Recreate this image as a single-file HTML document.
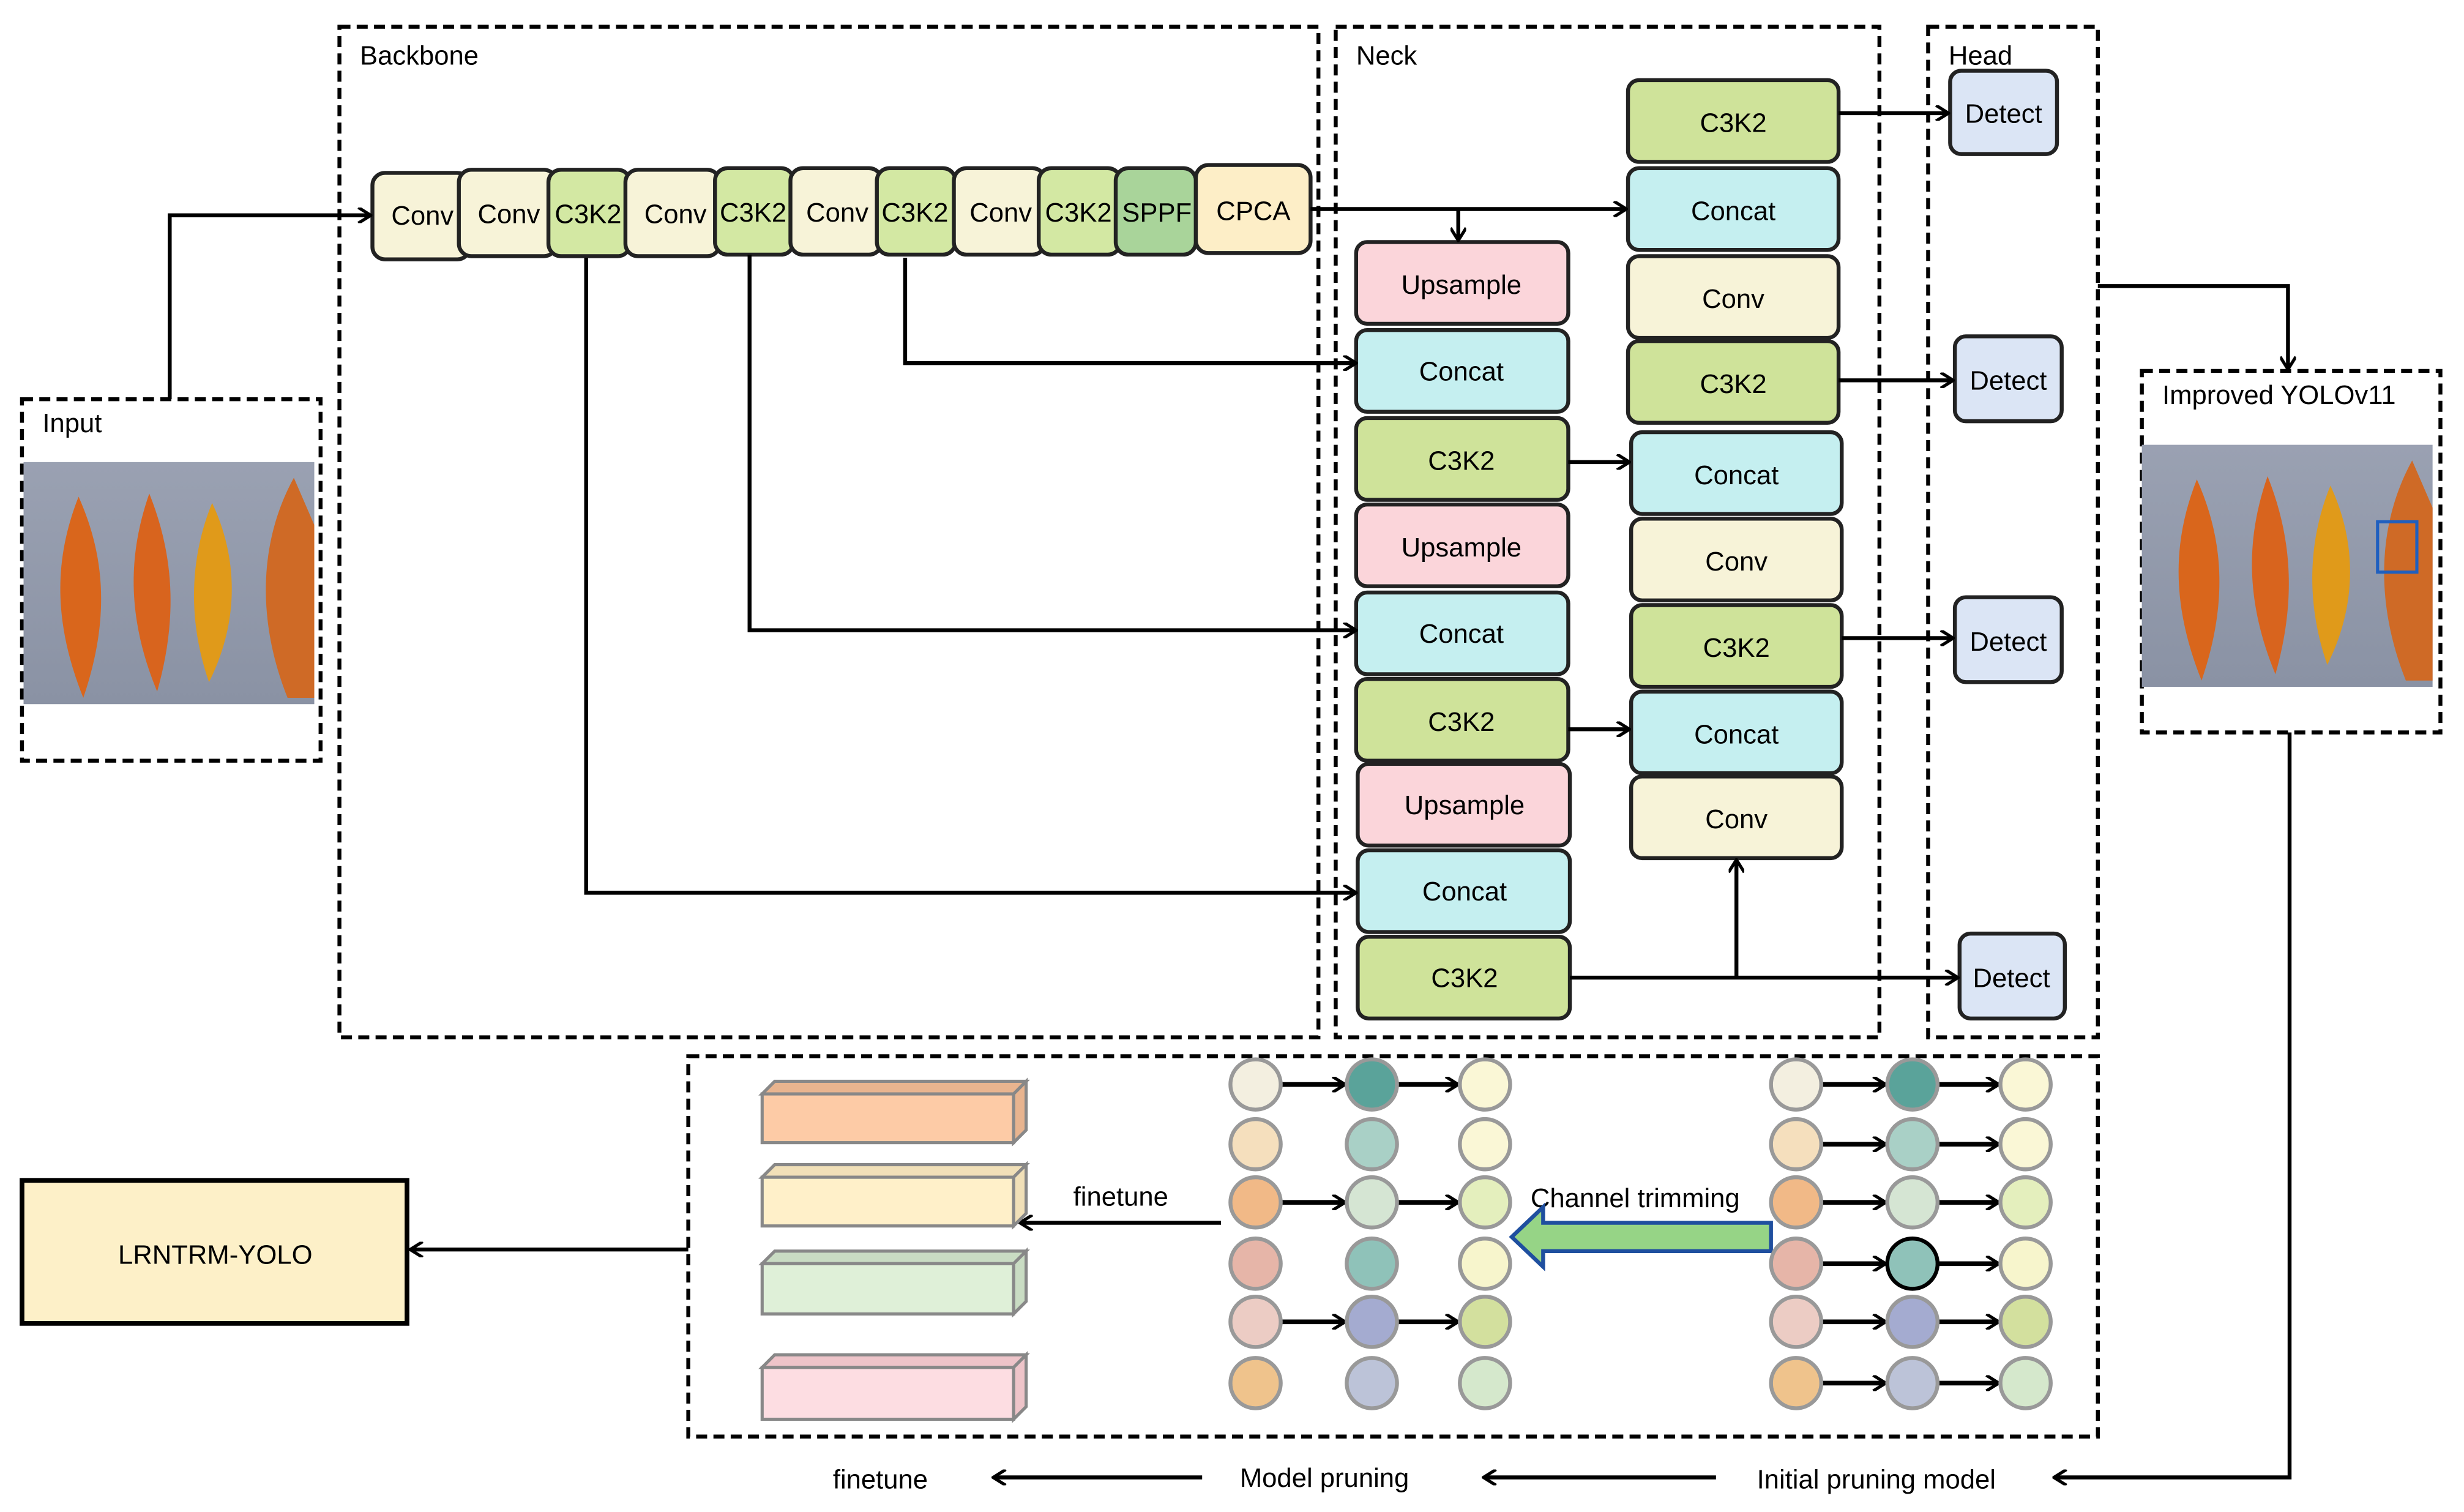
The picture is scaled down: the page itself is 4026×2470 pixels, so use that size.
<!DOCTYPE html>
<html><head><style>html,body{margin:0;padding:0;background:#fff}svg{display:block}</style></head><body>
<svg width="4026" height="2470" viewBox="0 0 1568 962" preserveAspectRatio="none" xmlns="http://www.w3.org/2000/svg" font-family="Liberation Sans, sans-serif">
<defs>
<marker id="a" markerWidth="10" markerHeight="10" refX="8" refY="5" orient="auto" markerUnits="userSpaceOnUse"><path d="M1,0 L9,5 L1,10" fill="none" stroke="#000" stroke-width="2"/></marker>
<linearGradient id="bg" x1="0" y1="0" x2="0" y2="1"><stop offset="0" stop-color="#9aa1b2"/><stop offset="1" stop-color="#8a92a4"/></linearGradient>
<g id="leaves">
<rect x="0" y="0" width="185" height="154" fill="url(#bg)"/>
<path d="M35,22 C20,60 18,100 38,150 C55,100 52,60 35,22Z" fill="#d9661c"/>
<path d="M80,20 C66,60 66,100 85,146 C98,100 96,60 80,20Z" fill="#d8641e"/>
<path d="M120,26 C106,60 104,100 118,140 C138,100 136,60 120,26Z" fill="#e09a1a"/>
<path d="M172,10 C150,50 148,100 168,150 L185,150 L185,40Z" fill="#cf6a26"/>
</g>
</defs>
<g fill="none" stroke="#000" stroke-width="2.5" stroke-dasharray="7,4">
<rect x="216" y="17" width="623" height="643"/>
<rect x="850" y="17" width="346" height="643"/>
<rect x="1227" y="17" width="108" height="643"/>
<rect x="14" y="254" width="190" height="230"/>
<rect x="1363" y="236" width="190" height="230"/>
<rect x="438" y="672" width="897" height="242"/>
</g>
<g font-size="17" fill="#000">
<text x="229" y="41">Backbone</text><text x="863" y="41">Neck</text><text x="1240" y="41">Head</text>
<text x="27" y="275">Input</text><text x="1376" y="257">Improved YOLOv11</text>
</g>
<use href="#leaves" x="15" y="294"/>
<use href="#leaves" x="1363" y="283"/>
<rect x="1513" y="332" width="25" height="32" fill="none" stroke="#1f5fbf" stroke-width="2"/>
<rect x="14" y="751" width="245" height="91" fill="#fdf0c8" stroke="#000" stroke-width="3"/>
<text x="137" y="804" font-size="17" text-anchor="middle">LRNTRM-YOLO</text>
<g stroke="#222" stroke-width="2.5" font-size="17">
<rect x="237" y="110" width="62" height="55" rx="8" fill="#f7f3d8"/>
<rect x="292" y="108" width="62" height="55" rx="8" fill="#f7f3d8"/>
<rect x="349" y="108" width="52" height="55" rx="8" fill="#d3e8a3"/>
<rect x="398" y="108" width="60" height="55" rx="8" fill="#f7f3d8"/>
<rect x="455" y="107" width="50" height="55" rx="8" fill="#d3e8a3"/>
<rect x="503" y="107" width="58" height="55" rx="8" fill="#f7f3d8"/>
<rect x="558" y="107" width="50" height="55" rx="8" fill="#d3e8a3"/>
<rect x="607" y="107" width="58" height="55" rx="8" fill="#f7f3d8"/>
<rect x="661" y="107" width="52" height="55" rx="8" fill="#d3e8a3"/>
<rect x="710" y="107" width="51" height="55" rx="8" fill="#a9d49a"/>
<rect x="761" y="105" width="73" height="56" rx="8" fill="#fdeec7"/>
</g>
<g font-size="17" stroke="none">
<text x="249" y="143">Conv</text><text x="304" y="142">Conv</text><text x="353" y="142">C3K2</text><text x="410" y="142">Conv</text><text x="458" y="141">C3K2</text><text x="513" y="141">Conv</text><text x="561" y="141">C3K2</text><text x="617" y="141">Conv</text><text x="665" y="141">C3K2</text><text x="714" y="141">SPPF</text><text x="774" y="140">CPCA</text>
</g>
<g stroke="#222" stroke-width="2.5">
<rect x="863" y="154" width="135" height="52" rx="7" fill="#fbd5da"/>
<rect x="863" y="210" width="135" height="52" rx="7" fill="#c5eff0"/>
<rect x="863" y="266" width="135" height="52" rx="7" fill="#cfe39a"/>
<rect x="863" y="321" width="135" height="52" rx="7" fill="#fbd5da"/>
<rect x="863" y="377" width="135" height="52" rx="7" fill="#c5eff0"/>
<rect x="863" y="432" width="135" height="52" rx="7" fill="#cfe39a"/>
<rect x="864" y="486" width="135" height="52" rx="7" fill="#fbd5da"/>
<rect x="864" y="541" width="135" height="52" rx="7" fill="#c5eff0"/>
<rect x="864" y="596" width="135" height="52" rx="7" fill="#cfe39a"/>
<rect x="1036" y="51" width="134" height="52" rx="7" fill="#cfe39a"/>
<rect x="1036" y="107" width="134" height="52" rx="7" fill="#c5eff0"/>
<rect x="1036" y="163" width="134" height="52" rx="7" fill="#f7f3d8"/>
<rect x="1036" y="217" width="134" height="52" rx="7" fill="#cfe39a"/>
<rect x="1038" y="275" width="134" height="52" rx="7" fill="#c5eff0"/>
<rect x="1038" y="330" width="134" height="52" rx="7" fill="#f7f3d8"/>
<rect x="1038" y="385" width="134" height="52" rx="7" fill="#cfe39a"/>
<rect x="1038" y="440" width="134" height="52" rx="7" fill="#c5eff0"/>
<rect x="1038" y="494" width="134" height="52" rx="7" fill="#f7f3d8"/>
<rect x="1241" y="45" width="68" height="53" rx="7" fill="#dbe5f5"/>
<rect x="1244" y="214" width="68" height="54" rx="7" fill="#dbe5f5"/>
<rect x="1244" y="380" width="68" height="54" rx="7" fill="#dbe5f5"/>
<rect x="1247" y="594" width="67" height="54" rx="7" fill="#dbe5f5"/>
</g>
<g font-size="17" text-anchor="middle">
<text x="930" y="187">Upsample</text><text x="930" y="242">Concat</text><text x="930" y="299">C3K2</text>
<text x="930" y="354">Upsample</text><text x="930" y="409">Concat</text><text x="930" y="465">C3K2</text>
<text x="932" y="518">Upsample</text><text x="932" y="573">Concat</text><text x="932" y="628">C3K2</text>
<text x="1103" y="84">C3K2</text><text x="1103" y="140">Concat</text><text x="1103" y="196">Conv</text><text x="1103" y="250">C3K2</text>
<text x="1105" y="308">Concat</text><text x="1105" y="363">Conv</text><text x="1105" y="418">C3K2</text><text x="1105" y="473">Concat</text><text x="1105" y="527">Conv</text>
<text x="1275" y="78">Detect</text><text x="1278" y="248">Detect</text><text x="1278" y="414">Detect</text><text x="1280" y="628">Detect</text>
</g>
<g fill="none" stroke="#000" stroke-width="2.5" marker-end="url(#a)">
<path d="M108,254 V137 H235"/>
<path d="M834,133 H1034"/>
<path d="M928,133 V152"/>
<path d="M576,164 V231 H862"/>
<path d="M477,162 V401 H862"/>
<path d="M373,164 V568 H862"/>
<path d="M998,294 H1036"/>
<path d="M998,464 H1036"/>
<path d="M999,622 H1245"/>
<path d="M1105,622 V548"/>
<path d="M1170,72 H1239"/>
<path d="M1170,242 H1242"/>
<path d="M1172,406 H1242"/>
<path d="M1335,182 H1456 V234"/>
<path d="M1457,466 V940 H1308"/>
<path d="M438,795 H262"/>
<path d="M765,940 H633"/>
<path d="M1092,940 H945"/>
<path d="M777,778 H650"/>
</g>
<g font-size="17">
<text x="530" y="947">finetune</text><text x="789" y="946">Model pruning</text><text x="1118" y="947">Initial pruning model</text>
<text x="683" y="767">finetune</text><text x="974" y="768">Channel trimming</text>
</g>
<path d="M1127,778 V796 H982 V806 L962,787 L982,768 V778Z" fill="#96d486" stroke="#1f4f9f" stroke-width="2.5"/>
<g stroke="#888" stroke-width="2">
<path d="M485,696 L493,688 H653 L645,696Z M645,696 L653,688 V719 L645,727Z" fill="#e8b48f"/><rect x="485" y="696" width="160" height="31" fill="#fdcba6"/>
<path d="M485,749 L493,741 H653 L645,749Z M645,749 L653,741 V772 L645,780Z" fill="#f1e0b8"/><rect x="485" y="749" width="160" height="31" fill="#fff0c9"/>
<path d="M485,804 L493,796 H653 L645,804Z M645,804 L653,796 V828 L645,836Z" fill="#c9dcc3"/><rect x="485" y="804" width="160" height="32" fill="#dff0d8"/>
<path d="M485,870 L493,862 H653 L645,870Z M645,870 L653,862 V895 L645,903Z" fill="#eec4c9"/><rect x="485" y="870" width="160" height="33" fill="#fddde2"/>
</g>
<g stroke="#000" stroke-width="3" marker-end="url(#a)">
<path d="M816,690 H855"/><path d="M890,690 H927"/>
<path d="M816,765 H855"/><path d="M890,765 H927"/>
<path d="M816,841 H855"/><path d="M890,841 H927"/>
<path d="M1160,690 H1199"/><path d="M1234,690 H1271"/>
<path d="M1160,728 H1199"/><path d="M1234,728 H1271"/>
<path d="M1160,765 H1199"/><path d="M1234,765 H1271"/>
<path d="M1160,804 H1199"/><path d="M1234,804 H1271"/>
<path d="M1160,841 H1199"/><path d="M1234,841 H1271"/>
<path d="M1160,880 H1199"/><path d="M1234,880 H1271"/>
</g>
<g stroke="#999" stroke-width="2.5">
<circle cx="799" cy="690" r="16" fill="#f3efe0"/><circle cx="873" cy="690" r="16" fill="#5aa39a"/><circle cx="945" cy="690" r="16" fill="#faf7d6"/>
<circle cx="799" cy="728" r="16" fill="#f5dfbd"/><circle cx="873" cy="728" r="16" fill="#a9d0c6"/><circle cx="945" cy="728" r="16" fill="#faf7d6"/>
<circle cx="799" cy="765" r="16" fill="#f1b987"/><circle cx="873" cy="765" r="16" fill="#d5e5d3"/><circle cx="945" cy="765" r="16" fill="#e4efbd"/>
<circle cx="799" cy="804" r="16" fill="#e6b5a8"/><circle cx="873" cy="804" r="16" fill="#8fc2b9"/><circle cx="945" cy="804" r="16" fill="#f7f5cc"/>
<circle cx="799" cy="841" r="16" fill="#ecccc4"/><circle cx="873" cy="841" r="16" fill="#a4abd0"/><circle cx="945" cy="841" r="16" fill="#d3e09e"/>
<circle cx="799" cy="880" r="16" fill="#efc38c"/><circle cx="873" cy="880" r="16" fill="#bcc3d8"/><circle cx="945" cy="880" r="16" fill="#d5e8cc"/>
<circle cx="1143" cy="690" r="16" fill="#f3efe0"/><circle cx="1217" cy="690" r="16" fill="#5aa39a"/><circle cx="1289" cy="690" r="16" fill="#faf7d6"/>
<circle cx="1143" cy="728" r="16" fill="#f5dfbd"/><circle cx="1217" cy="728" r="16" fill="#a9d0c6"/><circle cx="1289" cy="728" r="16" fill="#faf7d6"/>
<circle cx="1143" cy="765" r="16" fill="#f1b987"/><circle cx="1217" cy="765" r="16" fill="#d5e5d3"/><circle cx="1289" cy="765" r="16" fill="#e4efbd"/>
<circle cx="1143" cy="804" r="16" fill="#e6b5a8"/><circle cx="1217" cy="804" r="16" fill="#8fc2b9" stroke="#000"/><circle cx="1289" cy="804" r="16" fill="#f7f5cc"/>
<circle cx="1143" cy="841" r="16" fill="#ecccc4"/><circle cx="1217" cy="841" r="16" fill="#a4abd0"/><circle cx="1289" cy="841" r="16" fill="#d3e09e"/>
<circle cx="1143" cy="880" r="16" fill="#efc38c"/><circle cx="1217" cy="880" r="16" fill="#bcc3d8"/><circle cx="1289" cy="880" r="16" fill="#d5e8cc"/>
</g>
</svg>
</body></html>
